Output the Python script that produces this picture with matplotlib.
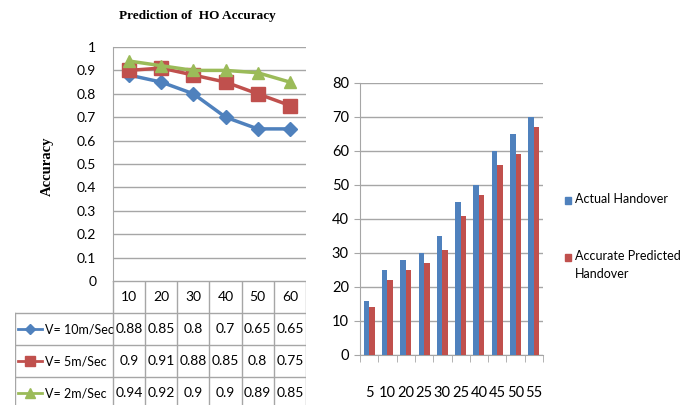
import matplotlib.pyplot as plt
from matplotlib.patches import Rectangle

# data for left chart (prediction accuracy vs distance)
distances = ['10', '20', '30', '40', '50', '60']
speed_labels = ['V= 10m/Sec', 'V= 5m/Sec', 'V= 2m/Sec']
acc_10 = [0.88, 0.85, 0.8, 0.7, 0.65, 0.65]
acc_5 = [0.9, 0.91, 0.88, 0.85, 0.8, 0.75]
acc_2 = [0.94, 0.92, 0.9, 0.9, 0.89, 0.85]

# data for right chart (handover counts)
bar_labels = ['5', '10', '20', '25', '30', '25', '40', '45', '50', '55']
actual_ho = [16, 25, 28, 30, 35, 45, 50, 60, 65, 70]
predicted_ho = [14, 22, 25, 27, 31, 41, 47, 56, 59, 67]
legend_labels = ['Actual Handover', 'Accurate Predicted\nHandover']

W, H = 688, 405
fig = plt.figure(figsize=(W / 100, H / 100), dpi=100)
plt.rcParams['font.family'] = ['Lato', 'DejaVu Sans']
fs = 10


def rect(l, r, t, b):
    return [l / W, 1 - b / H, (r - l) / W, (b - t) / H]


grid_c = '#A6A6A6'
colors = ['#4F81BD', '#C0504D', '#9BBB59']
markers = ['D', 's', '^']
msizes = [7, 10, 9]
series = [acc_10, acc_5, acc_2]

# ---- left line chart ----
ax = fig.add_axes(rect(113, 306, 47, 281))
x = list(range(len(distances)))
for vals, c, m, ms in zip(series, colors, markers, msizes):
    ax.plot(x, vals, color=c, marker=m, markersize=ms, linewidth=2.5)
ax.set_xlim(-0.5, len(distances) - 0.5)
ax.set_ylim(0, 1)
ax.set_yticks([i / 10 for i in range(11)])
ax.set_yticklabels(['0', '0.1', '0.2', '0.3', '0.4', '0.5', '0.6', '0.7', '0.8', '0.9', '1'])
ax.set_xticks([])
ax.tick_params(axis='y', length=0, labelsize=fs, pad=12)
ax.grid(axis='y', color=grid_c, linewidth=1)
for s in ['top', 'right', 'bottom']:
    ax.spines[s].set_visible(False)
ax.spines['left'].set_color(grid_c)
fig.text(197 / W, 1 - 16 / H, 'Prediction of  HO Accuracy', family='Liberation Serif',
         fontweight='bold', fontsize=9.5, ha='center', va='center')
fig.text(47 / W, 1 - 166 / H, 'Accuracy', rotation=90, family='Liberation Serif',
         fontweight='bold', fontsize=10.5, ha='center', va='center')

# ---- data table under left chart ----
tb = fig.add_axes(rect(15, 306, 281, 409))
lab_w = 98 / 32.2
tb.set_xlim(-lab_w, len(distances))
tb.set_ylim(4, 0)
tb.axis('off')
for i in range(len(distances) + 1):
    tb.plot([i, i], [0, 4], color=grid_c, linewidth=1)
tb.plot([-lab_w, -lab_w], [1, 4], color=grid_c, linewidth=1)
tb.plot([0, len(distances)], [0, 0], color=grid_c, linewidth=1)
for r in range(1, 4):
    tb.plot([-lab_w, len(distances)], [r, r], color=grid_c, linewidth=1)
for i, d in enumerate(distances):
    tb.text(i + 0.5, 0.5, d, ha='center', va='center', fontsize=fs)
for r, (lab, vals, c, m, ms) in enumerate(zip(speed_labels, series, colors, markers, msizes)):
    yy = r + 1.5
    tb.plot([-lab_w + 0.1, -lab_w + 0.85], [yy, yy], color=c, linewidth=2)
    tb.plot([-lab_w + 0.47], [yy], color=c, marker=m, markersize=ms * 0.75)
    tb.text(-lab_w + 0.92, yy, lab, ha='left', va='center', fontsize=9)
    for i, v in enumerate(vals):
        tb.text(i + 0.5, yy, f'{v:g}', ha='center', va='center', fontsize=fs)

# ---- right bar chart ----
bx = fig.add_axes(rect(360, 543, 83, 355))
xb = list(range(len(bar_labels)))
bw = 0.3
bx.bar([i - bw / 2 for i in xb], actual_ho, width=bw, color=colors[0], zorder=3)
bx.bar([i + bw / 2 for i in xb], predicted_ho, width=bw, color=colors[1], zorder=3)
bx.set_xlim(-0.5, len(bar_labels) - 0.5)
bx.set_ylim(0, 80)
bx.set_yticks(range(0, 81, 10))
bx.set_xticks(xb)
bx.set_xticklabels(bar_labels)
bx.set_xticks([i - 0.5 for i in range(len(bar_labels) + 1)], minor=True)
bx.tick_params(axis='x', which='major', length=0, pad=22, labelsize=fs + 0.5)
bx.tick_params(axis='x', which='minor', length=5, color=grid_c, direction='out')
bx.tick_params(axis='y', length=4, color=grid_c, labelsize=fs + 0.5, pad=4)
bx.grid(axis='y', color=grid_c, linewidth=1, zorder=0)
for s in ['top', 'right']:
    bx.spines[s].set_visible(False)
bx.spines['left'].set_color(grid_c)
bx.spines['bottom'].set_color(grid_c)

# legend drawn by hand to match spacing
for lab, c, ty in zip(legend_labels, colors[:2], [200, 257]):
    fig.add_artist(Rectangle((565 / W, 1 - (ty + 3.5) / H), 5.5 / W, 7 / H,
                             color=c, transform=fig.transFigure))
    fig.text(575 / W, 1 - (ty - 7) / H, lab, ha='left', va='top', fontsize=9,
             linespacing=1.65)

fig.savefig('out.png', dpi=100)
